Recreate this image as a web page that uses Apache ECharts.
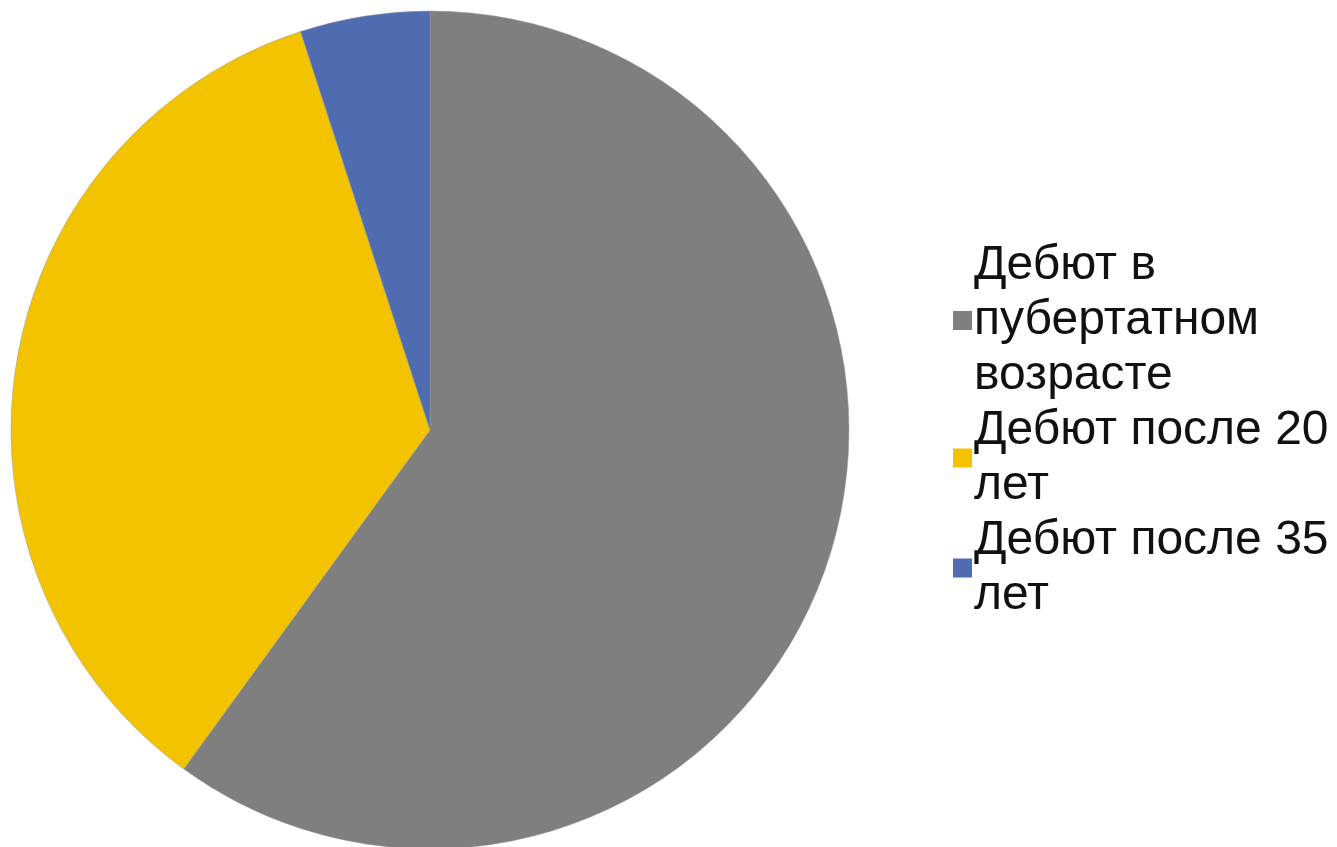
<!DOCTYPE html>
<html><head><meta charset="utf-8">
<script src="https://cdn.jsdelivr.net/npm/echarts@6/dist/echarts.min.js"></script>
<style>html,body{margin:0;padding:0;background:#fff}#c{width:1337px;height:847px}</style>
</head><body><div id="c"></div>
<script>
const categories = ['Дебют в пубертатном возрасте', 'Дебют после 20 лет', 'Дебют после 35 лет'];
const values = [60, 35, 5];
const colors = ['#7f7f7f', '#f3c300', '#4f6cb1'];

const FONT = '48px "Liberation Sans", Arial, sans-serif';
const MAXW = 362;
const ctx = document.createElement('canvas').getContext('2d');
ctx.font = FONT;
function wrap(name) {
  const words = name.split(' ');
  const lines = [];
  let cur = '';
  words.forEach(w => {
    const t = cur ? cur + ' ' + w : w;
    if (cur && ctx.measureText(t).width > MAXW) { lines.push(cur); cur = w; }
    else cur = t;
  });
  if (cur) lines.push(cur);
  return lines.join('\n');
}

const chart = echarts.init(document.getElementById('c'), null, {renderer: 'canvas'});
chart.setOption({
  animation: false,
  color: colors,
  legend: {
    orient: 'vertical',
    left: 953,
    top: 238,
    padding: 0,
    itemWidth: 19,
    itemHeight: 19,
    itemGap: 0,
    icon: 'rect',
    itemStyle: {borderWidth: 0},
    formatter: wrap,
    textStyle: {
      fontFamily: '"Liberation Sans", Arial, sans-serif',
      fontSize: 48,
      lineHeight: 55,
      color: '#111',
      padding: [0, 0, 0, -3]
    },
    data: categories
  },
  series: [{
    type: 'pie',
    center: [430, 430],
    radius: [0, 419],
    startAngle: 90,
    clockwise: true,
    label: {show: false},
    labelLine: {show: false},
    itemStyle: {borderWidth: 0.5, borderColor: '#999'},
    data: categories.map((n, i) => ({name: n, value: values[i]}))
  }]
});
</script></body></html>
